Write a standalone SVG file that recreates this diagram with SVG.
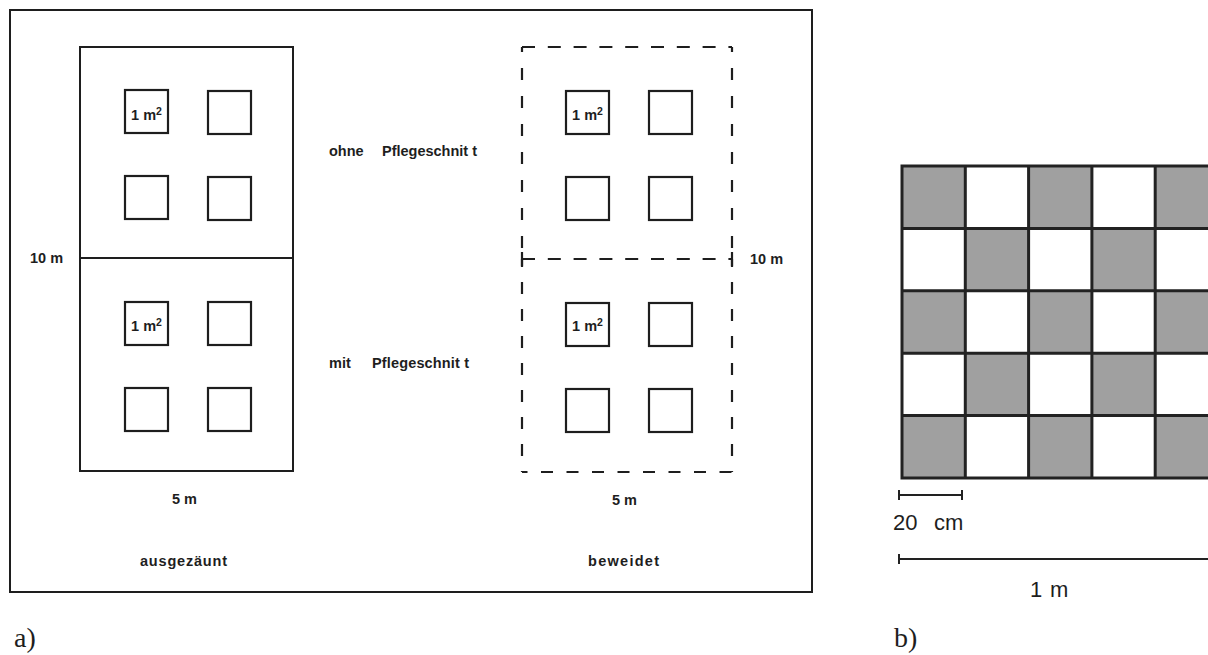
<svg xmlns="http://www.w3.org/2000/svg" width="1208" height="655" viewBox="0 0 1208 655">
  <style>
    .frame { fill: none; stroke: #1e1e1e; stroke-width: 2; }
    .plot { fill: none; stroke: #1e1e1e; stroke-width: 2; }
    .dash { fill: none; stroke: #1e1e1e; stroke-width: 2.2; }
    .q { fill: none; stroke: #1e1e1e; stroke-width: 2.2; }
    .lbl { font-family: "Liberation Sans", Arial, sans-serif; font-weight: bold; font-size: 14.5px; fill: #1e1e1e; }
    .big { font-family: "Liberation Sans", Arial, sans-serif; font-size: 22px; fill: #1e1e1e; }
    .tag { font-family: "Liberation Serif", "Times New Roman", serif; font-size: 28px; fill: #1e1e1e; }
    .g { fill: #a0a0a0; }
    .w { fill: #ffffff; }
    .grid { fill: none; stroke: #222; stroke-width: 3; }
    .bar { fill: none; stroke: #222; stroke-width: 2; }
  </style>
  <rect width="1208" height="655" fill="#ffffff"/>

  <!-- panel a: experimental layout -->
  <g id="panel-a">
    <rect id="frame-a" class="frame" x="10" y="10" width="802" height="582"/>

    <!-- fenced plot (solid outline) -->
    <g id="plot-fenced">
      <rect class="plot" x="80" y="47" width="213" height="424"/>
      <line class="plot" x1="80" y1="258" x2="293" y2="258"/>
      <rect class="q" x="125" y="90" width="43" height="43"/>
      <rect class="q" x="208" y="91" width="43" height="43"/>
      <rect class="q" x="125" y="176" width="43" height="43"/>
      <rect class="q" x="208" y="177" width="43" height="43"/>
      <rect class="q" x="125" y="302" width="43" height="43"/>
      <rect class="q" x="208" y="302" width="43" height="43"/>
      <rect class="q" x="125" y="388" width="43" height="43"/>
      <rect class="q" x="208" y="388" width="43" height="43"/>
      <text class="lbl" x="146.5" y="120" text-anchor="middle" font-size="14">1 m<tspan dy="-5" font-size="10.5">2</tspan></text>
      <text class="lbl" x="146.5" y="331" text-anchor="middle" font-size="14">1 m<tspan dy="-5" font-size="10.5">2</tspan></text>
      <text class="lbl" x="30" y="263">10 m</text>
      <text class="lbl" x="172" y="504">5 m</text>
      <text class="lbl" x="140" y="566" font-size="16" textLength="87">ausgezäunt</text>
    </g>

    <!-- grazed plot (dashed outline) -->
    <g id="plot-grazed">
      <line class="dash" x1="522" y1="47" x2="732" y2="47" stroke-dasharray="13 12.8"/>
      <line class="dash" x1="522" y1="259" x2="732" y2="259" stroke-dasharray="13 12.8"/>
      <line class="dash" x1="522" y1="472" x2="732" y2="472" stroke-dasharray="12 13.5" stroke-dashoffset="6.5"/>
      <line class="dash" x1="522" y1="47" x2="522" y2="259" stroke-dasharray="12 16" stroke-dashoffset="7"/>
      <line class="dash" x1="522" y1="259" x2="522" y2="472" stroke-dasharray="12 15" stroke-dashoffset="4"/>
      <line class="dash" x1="732" y1="47" x2="732" y2="259" stroke-dasharray="12 16" stroke-dashoffset="7"/>
      <line class="dash" x1="732" y1="259" x2="732" y2="472" stroke-dasharray="12 15" stroke-dashoffset="4"/>
      <line class="dash" x1="522" y1="252" x2="522" y2="266"/>
      <line class="dash" x1="732" y1="252" x2="732" y2="266"/>
      <rect class="q" x="566" y="91" width="43" height="43"/>
      <rect class="q" x="649" y="91" width="43" height="43"/>
      <rect class="q" x="566" y="177" width="43" height="43"/>
      <rect class="q" x="649" y="177" width="43" height="43"/>
      <rect class="q" x="566" y="303" width="43" height="43"/>
      <rect class="q" x="649" y="303" width="43" height="43"/>
      <rect class="q" x="566" y="389" width="43" height="43"/>
      <rect class="q" x="649" y="389" width="43" height="43"/>
      <text class="lbl" x="587.5" y="120" text-anchor="middle" font-size="14">1 m<tspan dy="-5" font-size="10.5">2</tspan></text>
      <text class="lbl" x="587.5" y="331" text-anchor="middle" font-size="14">1 m<tspan dy="-5" font-size="10.5">2</tspan></text>
      <text class="lbl" x="750" y="264">10 m</text>
      <text class="lbl" x="612" y="505">5 m</text>
      <text class="lbl" x="588" y="566" font-size="16" textLength="71">beweidet</text>
    </g>

    <!-- treatment labels -->
    <g id="treatments">
      <text class="lbl" x="329" y="156">ohne</text>
      <text class="lbl" x="382" y="156" textLength="95">Pflegeschnit t</text>
      <text class="lbl" x="329" y="368">mit</text>
      <text class="lbl" x="372" y="368" textLength="97">Pflegeschnit t</text>
    </g>

    <text id="tag-a" class="tag" x="14" y="647">a)</text>
  </g>

  <!-- panel b: 1 m² quadrat with 20 cm sub-squares -->
  <g id="panel-b">
    <g id="quadrat-cells">
      <!-- row 0 -->
      <rect class="g" x="902" y="166" width="63.3" height="62.4"/>
      <rect class="w" x="965.3" y="166" width="63.3" height="62.4"/>
      <rect class="g" x="1028.6" y="166" width="63.3" height="62.4"/>
      <rect class="w" x="1091.9" y="166" width="63.3" height="62.4"/>
      <rect class="g" x="1155.2" y="166" width="63.3" height="62.4"/>
      <!-- row 1 -->
      <rect class="w" x="902" y="228.4" width="63.3" height="62.4"/>
      <rect class="g" x="965.3" y="228.4" width="63.3" height="62.4"/>
      <rect class="w" x="1028.6" y="228.4" width="63.3" height="62.4"/>
      <rect class="g" x="1091.9" y="228.4" width="63.3" height="62.4"/>
      <rect class="w" x="1155.2" y="228.4" width="63.3" height="62.4"/>
      <!-- row 2 -->
      <rect class="g" x="902" y="290.8" width="63.3" height="62.4"/>
      <rect class="w" x="965.3" y="290.8" width="63.3" height="62.4"/>
      <rect class="g" x="1028.6" y="290.8" width="63.3" height="62.4"/>
      <rect class="w" x="1091.9" y="290.8" width="63.3" height="62.4"/>
      <rect class="g" x="1155.2" y="290.8" width="63.3" height="62.4"/>
      <!-- row 3 -->
      <rect class="w" x="902" y="353.2" width="63.3" height="62.4"/>
      <rect class="g" x="965.3" y="353.2" width="63.3" height="62.4"/>
      <rect class="w" x="1028.6" y="353.2" width="63.3" height="62.4"/>
      <rect class="g" x="1091.9" y="353.2" width="63.3" height="62.4"/>
      <rect class="w" x="1155.2" y="353.2" width="63.3" height="62.4"/>
      <!-- row 4 -->
      <rect class="g" x="902" y="415.6" width="63.3" height="62.4"/>
      <rect class="w" x="965.3" y="415.6" width="63.3" height="62.4"/>
      <rect class="g" x="1028.6" y="415.6" width="63.3" height="62.4"/>
      <rect class="w" x="1091.9" y="415.6" width="63.3" height="62.4"/>
      <rect class="g" x="1155.2" y="415.6" width="63.3" height="62.4"/>
    </g>
    <g id="quadrat-grid">
      <rect class="grid" x="902" y="166" width="316.5" height="312"/>
      <path class="grid" d="M965.3,166V478 M1028.6,166V478 M1091.9,166V478 M1155.2,166V478 M902,228.4H1218 M902,290.8H1218 M902,353.2H1218 M902,415.6H1218"/>
    </g>
    <g id="scale-bars">
      <path class="bar" d="M899,495H962 M899,490V500 M962,490V500"/>
      <path class="bar" d="M899,559H1215 M899,554V564"/>
      <text class="big" x="893" y="530">20 <tspan x="934">cm</tspan></text>
      <text class="big" x="1030" y="597">1 <tspan x="1050">m</tspan></text>
    </g>
    <text id="tag-b" class="tag" x="894" y="647">b)</text>
  </g>
</svg>
